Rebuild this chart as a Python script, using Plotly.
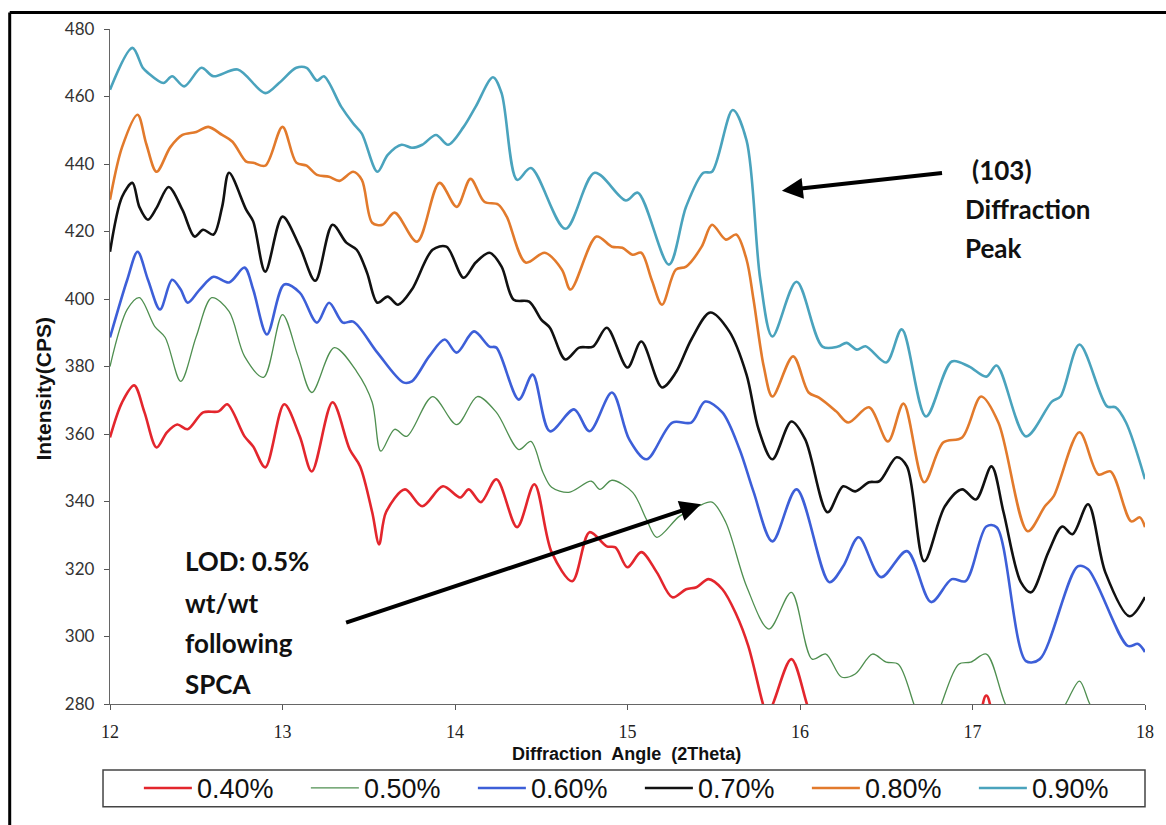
import plotly.graph_objects as go

# 2-theta diffraction angle (degrees) and intensity (CPS) for each loading level
angle_040 = [12.00, 12.07, 12.14, 12.20, 12.27, 12.33, 12.39, 12.45, 12.54, 12.63,
             12.68, 12.78, 12.83, 12.90, 13.01, 13.10, 13.17, 13.29, 13.39, 13.45,
             13.52, 13.56, 13.60, 13.71, 13.81, 13.93, 14.03, 14.08, 14.15, 14.24,
             14.36, 14.46, 14.56, 14.68, 14.78, 14.88, 14.93, 15.00, 15.08, 15.17,
             15.26, 15.34, 15.40, 15.47, 15.55, 15.63, 15.70, 15.78, 15.81, 15.85,
             15.95, 16.04, 16.11, 16.57, 17.01, 17.08, 17.15, 17.50, 18.00]
cps_040 = [359, 369.4, 374.4, 366.4, 356, 360.5, 362.8, 361.4, 366.4, 366.7,
           368.8, 359.3, 356.3, 350.1, 368.8, 359.3, 348.9, 369.4, 355.4, 350.4,
           336.8, 327.3, 336.8, 343.6, 338.6, 344.5, 341.2, 343.6, 339.8, 346.6,
           332.4, 345.1, 325, 316.4, 330.9, 326.7, 326.4, 320.5, 325, 319,
           311.6, 314, 314.6, 317, 314, 306.6, 297.2, 281, 276, 281,
           293.3, 280, 268, 262, 273, 282.5, 273, 262, 258]

angle_050 = [12.00, 12.10, 12.17, 12.26, 12.32, 12.41, 12.50, 12.59, 12.69, 12.78,
             12.89, 13.00, 13.09, 13.17, 13.30, 13.43, 13.52, 13.57, 13.65, 13.72,
             13.87, 14.01, 14.13, 14.24, 14.37, 14.44, 14.51, 14.56, 14.66, 14.79,
             14.84, 14.91, 15.03, 15.11, 15.17, 15.30, 15.41, 15.49, 15.57, 15.69,
             15.82, 15.95, 16.07, 16.15, 16.24, 16.32, 16.42, 16.50, 16.57, 16.66,
             16.74, 16.82, 16.92, 16.99, 17.08, 17.19, 17.32, 17.44, 17.54, 17.62,
             17.68, 17.79, 18.00]
cps_050 = [380, 396.9, 400.4, 391.8, 388.6, 375.6, 388.9, 400.4, 396.3, 383,
           376.8, 395.4, 383, 372.3, 385.6, 378.5, 369.4, 354.9, 361.4, 359.3,
           371.1, 362.8, 371.1, 366.4, 355.4, 357.8, 348.6, 344.2, 342.7, 346,
           343.6, 346.3, 342.7, 334.7, 329.4, 335.6, 338.6, 339.8, 333.8, 314.9,
           302.2, 313.1, 293.3, 294.8, 288, 288.9, 294.8, 292.4, 291.8, 280,
           268, 280, 291.8, 292.4, 294.8, 280, 268, 272, 280, 286.8,
           280, 270, 265]

angle_060 = [12.00, 12.10, 12.16, 12.22, 12.29, 12.36, 12.41, 12.45, 12.52, 12.60,
             12.69, 12.78, 12.83, 12.91, 13.01, 13.10, 13.20, 13.27, 13.35, 13.41,
             13.55, 13.70, 13.75, 13.85, 13.94, 14.01, 14.11, 14.20, 14.24, 14.37,
             14.45, 14.55, 14.69, 14.78, 14.91, 15.01, 15.11, 15.26, 15.37, 15.45,
             15.55, 15.65, 15.73, 15.84, 15.98, 16.17, 16.25, 16.34, 16.47, 16.62,
             16.76, 16.88, 16.96, 17.08, 17.14, 17.31, 17.39, 17.61, 17.67, 17.90,
             17.96, 18.00]
cps_060 = [388.6, 405.7, 414, 405.7, 396.9, 405.7, 402.8, 398.9, 402.8, 406.6,
           404.9, 409.3, 402.8, 389.5, 404.3, 401.9, 393, 398.9, 393, 393.3,
           384.1, 375.3, 375.6, 383, 388, 384.1, 390.4, 385.9, 385.6, 370.2,
           377.6, 360.8, 367.3, 360.8, 372.3, 358.4, 352.5, 363.4, 363.4, 369.6,
           366.4, 355.4, 343, 328.2, 343.6, 316.1, 320.8, 329.4, 317.6, 325.3,
           310.2, 317, 316.4, 332.6, 332.4, 292.7, 293.3, 320.8, 319.9, 297.2,
           297.8, 295.4]

angle_070 = [12.00, 12.07, 12.13, 12.17, 12.22, 12.27, 12.34, 12.42, 12.49, 12.54,
             12.60, 12.65, 12.69, 12.79, 12.83, 12.90, 13.00, 13.10, 13.19, 13.29,
             13.37, 13.43, 13.49, 13.55, 13.61, 13.67, 13.75, 13.87, 13.95, 14.05,
             14.12, 14.20, 14.27, 14.34, 14.43, 14.50, 14.55, 14.64, 14.72, 14.80,
             14.88, 15.00, 15.08, 15.20, 15.28, 15.37, 15.48, 15.59, 15.69, 15.76,
             15.84, 15.95, 16.03, 16.16, 16.25, 16.32, 16.40, 16.46, 16.56, 16.62,
             16.72, 16.84, 16.94, 17.02, 17.11, 17.18, 17.28, 17.34, 17.44, 17.52,
             17.58, 17.67, 17.77, 17.91, 18.00]
cps_070 = [414, 430.3, 434.4, 427.3, 423.5, 427, 433.2, 426.4, 418.5, 420.5,
           419.1, 427.3, 437.4, 426.4, 423, 408.1, 424.4, 415.5, 405.4, 422,
           416.7, 414.6, 407.8, 398.9, 400.7, 398.3, 402.8, 414.6, 415.5, 406.3,
           410.8, 413.7, 409.6, 399.8, 399.2, 393.9, 391.5, 382.1, 385.6, 385.9,
           391.5, 379.7, 387.4, 373.8, 378.2, 388, 396, 390.4, 377.6, 361.4,
           352.5, 363.7, 358.4, 336.8, 344.5, 343, 345.7, 346, 353.1, 350.4,
           322.3, 338.6, 343.6, 340.6, 350.4, 336.8, 316.1, 313.1, 325, 332.6,
           330.3, 339.2, 319, 306, 311.7]

angle_080 = [12.00, 12.07, 12.16, 12.21, 12.27, 12.35, 12.42, 12.50, 12.57, 12.65,
             12.71, 12.79, 12.83, 12.90, 13.00, 13.08, 13.14, 13.20, 13.27, 13.33,
             13.41, 13.46, 13.52, 13.58, 13.65, 13.78, 13.91, 14.01, 14.09, 14.17,
             14.25, 14.30, 14.41, 14.52, 14.62, 14.67, 14.82, 14.91, 14.97, 15.03,
             15.08, 15.14, 15.20, 15.28, 15.34, 15.43, 15.49, 15.57, 15.63, 15.69,
             15.73, 15.79, 15.84, 15.96, 16.05, 16.11, 16.21, 16.28, 16.40, 16.51,
             16.60, 16.72, 16.83, 16.94, 17.05, 17.15, 17.32, 17.42, 17.47, 17.62,
             17.73, 17.80, 17.92, 17.97, 18.00]
cps_080 = [429.4, 445, 454.6, 446, 437.7, 445, 448.6, 449.5, 451, 448.6,
           446.6, 440.7, 440.4, 439.5, 451, 440.4, 439.5, 436.8, 436.2, 435,
           437.7, 435.3, 422.6, 422, 425.6, 417, 434.4, 427.3, 435.6, 428.8,
           428, 424.4, 410.8, 413.7, 408.7, 402.8, 418.5, 415.5, 415.2, 413.1,
           413.7, 405.7, 398.3, 408.7, 409.6, 415.5, 422, 417.6, 419.1, 411.7,
           400, 380, 371.1, 383, 372.3, 370.8, 366.7, 363.4, 367.9, 357.8,
           369, 345.7, 357.5, 359, 371.1, 363.4, 331.2, 338.6, 341.5, 360.5,
           348, 348.9, 334.1, 335.3, 332.4]

angle_090 = [12.00, 12.13, 12.19, 12.22, 12.31, 12.36, 12.43, 12.53, 12.60, 12.74,
             12.90, 12.98, 13.08, 13.14, 13.20, 13.24, 13.34, 13.41, 13.46, 13.55,
             13.61, 13.69, 13.75, 13.81, 13.89, 13.96, 14.05, 14.12, 14.22, 14.27,
             14.36, 14.44, 14.64, 14.81, 14.99, 15.06, 15.24, 15.34, 15.44, 15.49,
             15.61, 15.69, 15.77, 15.84, 15.98, 16.13, 16.22, 16.27, 16.33, 16.38,
             16.50, 16.59, 16.73, 16.88, 16.98, 17.08, 17.14, 17.31, 17.46, 17.51,
             17.62, 17.78, 17.83, 17.89, 18.00]
cps_090 = [462, 474.4, 468.5, 467, 464, 466, 463, 468.5, 466, 468,
           461, 464, 468.5, 468.5, 464.7, 466, 457, 452, 449, 437.7,
           442.7, 445.7, 444.8, 445.7, 448.6, 445.7, 451, 457, 465.7, 461,
           435.3, 438.8, 420.8, 437.4, 429.2, 431.5, 410.2, 427.4, 437.4, 437.7,
           456, 447, 405.7, 388.9, 405.1, 385.9, 385.9, 387, 385, 386,
           381.2, 391, 365.2, 381.5, 380, 377, 380.3, 359.3, 369.6, 371.1,
           386.5, 368.2, 367.9, 363.4, 346.6]

series_names = ["0.40%", "0.50%", "0.60%", "0.70%", "0.80%", "0.90%"]
x_ticks = [12, 13, 14, 15, 16, 17, 18]
y_ticks = [280, 300, 320, 340, 360, 380, 400, 420, 440, 460, 480]

series = [
    (angle_040, cps_040, "#E3262D", 2.6),
    (angle_050, cps_050, "#4F8F50", 1.3),
    (angle_060, cps_060, "#3D5FD8", 2.6),
    (angle_070, cps_070, "#111111", 2.6),
    (angle_080, cps_080, "#E27A2C", 2.6),
    (angle_090, cps_090, "#4AA3BD", 2.6),
]

fig = go.Figure()
for name, (xs, ys, color, width) in zip(series_names, series):
    fig.add_trace(go.Scatter(
        x=xs, y=ys, name=name, mode="lines",
        line=dict(color=color, width=width, shape="spline", smoothing=0.9),
    ))

annotation_font = dict(family="Lato", size=26, color="#111111")


def label(text, x, y):
    return dict(text="<b>" + text + "</b>", x=x, y=y, xref="paper", yref="paper",
                xanchor="left", yanchor="middle", showarrow=False, font=annotation_font)


annotations = [
    label("(103)", 0.8312, 0.791),
    label("Diffraction", 0.8245, 0.733),
    label("Peak", 0.8245, 0.676),
    label("LOD: 0.5%", 0.0704, 0.212),
    label("wt/wt", 0.0704, 0.150),
    label("following", 0.0704, 0.091),
    label("SPCA", 0.0704, 0.030),
    # arrows pointing at the (103) peak and at the 0.5% trace
    dict(x=15.895, y=432.1, ax=16.832, ay=437.4, xref="x", yref="y", axref="x", ayref="y",
         text="", showarrow=True, arrowhead=2, arrowsize=1.05, arrowwidth=4,
         arrowcolor="#000000", standoff=0),
    dict(x=15.426, y=339.2, ax=13.36, ay=303.97, xref="x", yref="y", axref="x", ayref="y",
         text="", showarrow=True, arrowhead=2, arrowsize=1.05, arrowwidth=4,
         arrowcolor="#000000", standoff=0),
    # axis titles
    dict(text="<b>Diffraction\u00a0 Angle\u00a0 (2Theta)</b>", x=0.4986, y=-0.0735,
         xref="paper", yref="paper", xanchor="center", yanchor="middle", showarrow=False,
         font=dict(family="Liberation Sans", size=18, color="#111111")),
    dict(text="<b>Intensity(CPS)</b>", x=-0.0646, y=0.4675, textangle=-90,
         xref="paper", yref="paper", xanchor="center", yanchor="middle", showarrow=False,
         font=dict(family="Liberation Sans", size=21, color="#111111")),
]

shapes = [
    # outer frame: only the top and left edges fall inside the page
    dict(type="line", xref="paper", yref="paper", x0=-0.0969, y0=1.0244, x1=1.2, y1=1.0244,
         line=dict(color="#000000", width=3), layer="above"),
    dict(type="line", xref="paper", yref="paper", x0=-0.0969, y0=1.0244, x1=-0.0969, y1=-0.4,
         line=dict(color="#000000", width=3), layer="above"),
    # legend frame
    dict(type="rect", xref="paper", yref="paper", x0=-0.00675, y0=-0.0976, x1=1.0, y1=-0.1524,
         line=dict(color="#444444", width=1.5), fillcolor="rgba(0,0,0,0)", layer="above"),
]

fig.update_layout(
    width=1166, height=825,
    margin=dict(l=110, r=19, t=29, b=120),
    paper_bgcolor="white", plot_bgcolor="white",
    showlegend=True,
    legend=dict(orientation="h", x=0.0279, xanchor="left", y=-0.125, yanchor="middle",
                font=dict(family="Liberation Sans", size=27, color="#111111"),
                itemwidth=48, entrywidth=104, bgcolor="rgba(0,0,0,0)", borderwidth=0),
    annotations=annotations,
    shapes=shapes,
    xaxis=dict(range=[12, 18], tickvals=x_ticks, ticks="outside", ticklen=5, tickwidth=1,
               tickcolor="#555555", showline=True, linecolor="#666666", linewidth=1.3,
               showgrid=False, zeroline=False, ticklabelstandoff=6,
               tickfont=dict(family="Liberation Serif", size=18, color="#222222")),
    yaxis=dict(range=[280, 480], tickvals=y_ticks, ticks="outside", ticklen=5, tickwidth=1,
               tickcolor="#555555", showline=True, linecolor="#666666", linewidth=1.3,
               showgrid=False, zeroline=False, ticklabelstandoff=6,
               tickfont=dict(family="Lato", size=17, color="#333333")),
)

fig.write_html("out.html")
